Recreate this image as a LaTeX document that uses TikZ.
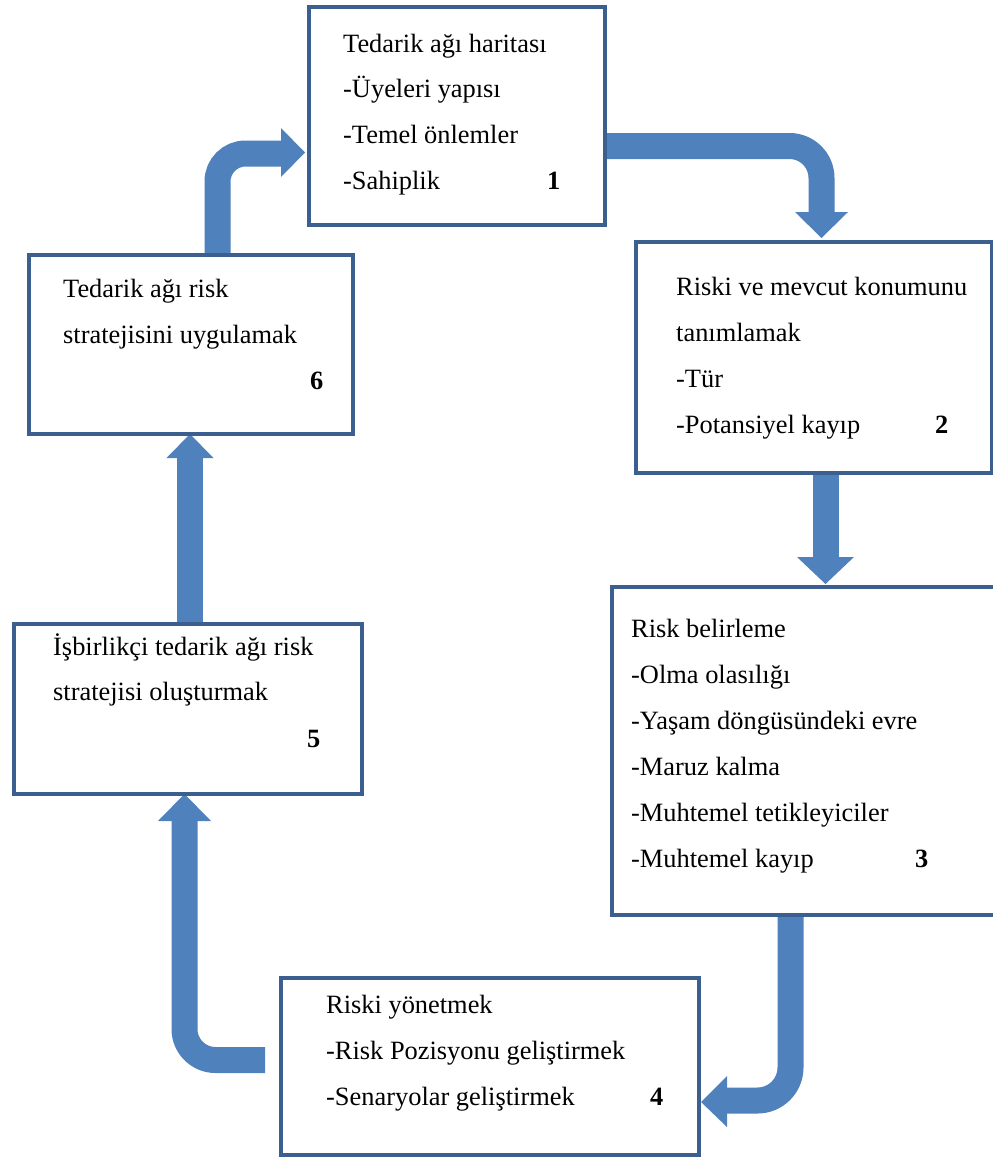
\documentclass[tikz,border=0pt]{standalone}
\usepackage{fontspec}
\setmainfont{Liberation Serif}
\begin{document}
\begin{tikzpicture}[x=1pt,y=-1pt,
  box/.style={draw=boxblue, line width=4pt, fill=white, rectangle, inner sep=0pt, anchor=north west},
  band/.style={draw=arrowblue, line width=26pt, rounded corners=#1},
  band/.default=0pt,
  head/.style={fill=arrowblue},
  txt/.style={anchor=base west, inner sep=0pt, font=\fontsize{26.4}{46}\selectfont},
  num/.style={anchor=base west, inner sep=0pt, font=\fontsize{26.4}{46}\selectfont\bfseries}]
\definecolor{boxblue}{HTML}{3B5F8E}
\definecolor{arrowblue}{HTML}{4F81BD}
\clip (0,0) rectangle (993,1157);
\fill[white] (0,0) rectangle (993,1157);

% boxes as placeholders for anchors (drawn later on top of the arrows)
\path (307,5) coordinate (b1nw) (603,223) coordinate (b1se)
      (634,240) coordinate (b2nw) (990,471) coordinate (b2se)
      (610,585) coordinate (b3nw) (1012,913) coordinate (b3se)
      (279,976) coordinate (b4nw) (697,1153) coordinate (b4se)
      (12,622) coordinate (b5nw) (360,792) coordinate (b5se)
      (27,253) coordinate (b6nw) (351,432) coordinate (b6se);

% 1 -> 2
\coordinate (s12) at (b1se |- 0,146);
\coordinate (e12) at (821.5,213);
\draw[band=32pt] (s12) -| (e12);
\fill[head] (795,212) -- (848,212) -- (821.5,238) -- cycle;

% 2 -> 3
\coordinate (s23) at (825.5,471);
\coordinate (e23) at (825.5,558);
\draw[band] (s23) -- (e23);
\fill[head] (797,557) -- (854,557) -- (825.5,584) -- cycle;

% 3 -> 4
\coordinate (s34) at (790.5,913);
\coordinate (e34) at (726,1100.5);
\draw[band=33pt] (s34) |- (e34);
\fill[head] (727,1076) -- (727,1127) -- (701,1102) -- cycle;

% 4 -> 5
\coordinate (s45) at (265,1060);
\coordinate (e45) at (184.5,820);
\draw[band=31pt] (s45) -| (e45);
\fill[head] (158,821) -- (211,821) -- (184.5,794) -- cycle;

% 5 -> 6
\coordinate (s56) at (190,622);
\coordinate (e56) at (190,457);
\draw[band] (s56) -- (e56);
\fill[head] (166.5,458) -- (213.5,458) -- (190,434) -- cycle;

% 6 -> 1
\coordinate (s61) at (217.5,253);
\coordinate (e61) at (282,153.5);
\draw[band=28pt] (s61) |- (e61);
\fill[head] (281,128) -- (281,177) -- (305,152.5) -- cycle;

% boxes
\node[box, minimum width=296pt, minimum height=218pt] (b1) at (b1nw) {};
\node[box, minimum width=356pt, minimum height=231pt] (b2) at (b2nw) {};
\node[box, minimum width=402pt, minimum height=328pt] (b3) at (b3nw) {};
\node[box, minimum width=418pt, minimum height=177pt] (b4) at (b4nw) {};
\node[box, minimum width=348pt, minimum height=170pt] (b5) at (b5nw) {};
\node[box, minimum width=324pt, minimum height=179pt] (b6) at (b6nw) {};

% texts
\node[txt] (t1) at (343,52) {\vtop{\baselineskip=45.7pt\hbox{Tedarik ağı haritası}\hbox{-Üyeleri yapısı}\hbox{-Temel önlemler}\hbox{-Sahiplik}}};
\node[num] (n1) at (547,189) {1};

\node[txt] (t2) at (676,295) {\vtop{\baselineskip=46pt\hbox{Riski ve mevcut konumunu}\hbox{tanımlamak}\hbox{-Tür}\hbox{-Potansiyel kayıp}}};
\node[num] (n2) at (935,433) {2};

\node[txt] (t3) at (631,637) {\vtop{\baselineskip=46pt\hbox{Risk belirleme}\hbox{-Olma olasılığı}\hbox{-Yaşam döngüsündeki evre}\hbox{-Maruz kalma}\hbox{-Muhtemel tetikleyiciler}\hbox{-Muhtemel kayıp}}};
\node[num] (n3) at (915,867) {3};

\node[txt] (t4) at (326,1013) {\vtop{\baselineskip=46pt\hbox{Riski yönetmek}\hbox{-Risk Pozisyonu geliştirmek}\hbox{-Senaryolar geliştirmek}}};
\node[num] (n4) at (650,1105) {4};

\node[txt] (t5) at (53,655) {\vtop{\baselineskip=45pt\hbox{İşbirlikçi tedarik ağı risk}\hbox{stratejisi oluşturmak}}};
\node[num] (n5) at (307,747) {5};

\node[txt] (t6) at (63,297) {\vtop{\baselineskip=46pt\hbox{Tedarik ağı risk}\hbox{stratejisini uygulamak}}};
\node[num] (n6) at (310,389) {6};
\end{tikzpicture}
\end{document}
